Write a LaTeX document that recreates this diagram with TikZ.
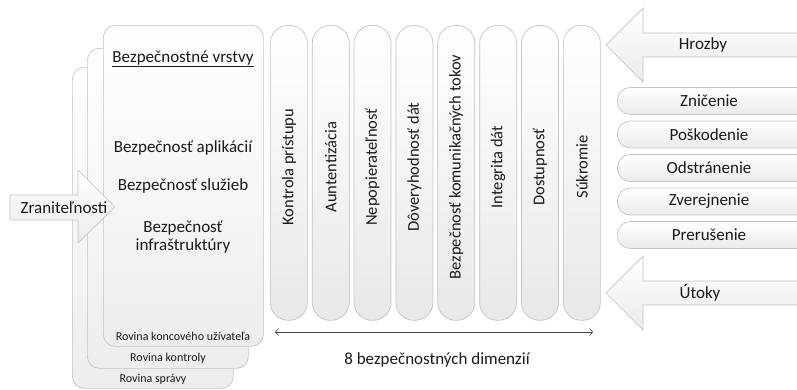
\documentclass[tikz,border=0pt]{standalone}
\usepackage{fontspec}
\setmainfont{Carlito}
\usetikzlibrary{arrows.meta}
\definecolor{edge}{HTML}{C4C4C4}
\definecolor{txt}{HTML}{1A1A1A}
\begin{document}
\begin{tikzpicture}[x=1pt,y=-1pt,
  panel/.style={draw=edge, line width=0.7pt, rounded corners=12pt, top color=white, bottom color=black!7, inner sep=0pt, anchor=north west},
  dimcol/.style={draw=edge, line width=0.7pt, rounded corners=18pt, top color=white, bottom color=black!9, inner sep=0pt, anchor=north west, minimum width=37pt, minimum height=295pt},
  pill/.style={draw=edge, line width=0.7pt, rounded corners=13pt, top color=white, bottom color=black!8, inner sep=0pt, anchor=west, minimum width=200pt, minimum height=27pt},
  bigarrow/.style={draw=edge, line width=0.7pt, top color=white, bottom color=black!8},
  lbl/.style={text=txt, font=\fontsize{17}{19}\selectfont, inner sep=0pt, align=center},
  small/.style={text=txt, font=\fontsize{12}{14}\selectfont, inner sep=0pt},
  dimtxt/.style={text=txt, font=\fontsize{16.5}{18}\selectfont, inner sep=0pt, rotate=90}
]
\useasboundingbox (0,0) rectangle (797,389);
\fill[white] (0,0) rectangle (797,389);
\begin{scope}
\clip (0,0) rectangle (797,389);

% layered panels
\node[panel, minimum width=161pt, minimum height=321pt] (back) at (72,67) {};
\node[panel, minimum width=161pt, minimum height=320pt] (mid) at (87,48) {};
\node[panel, minimum width=160pt, minimum height=321pt] (front) at (103,25) {};

\node[small] (rsprava) at (153,379) {Rovina správy};
\node[small] (rkontrola) at (168,358) {Rovina kontroly};
\node[small] (rkonc) at (183,336) {Rovina koncového užívateľa};

\node[lbl] (vrstvy) at (183,59) {\underline{Bezpečnostné vrstvy}};
\node[lbl] (aplik) at (183,148) {Bezpečnosť aplikácií};
\node[lbl] (sluzby) at (183,186) {Bezpečnosť služieb};
\node[lbl] (infra) at (183,237) {Bezpečnosť\\[-1pt]infraštruktúry};

% vulnerabilities arrow
\draw[bigarrow] (10,195) -- (78,195) -- (78,170) -- (115,207) -- (78,243) -- (78,220) -- (10,220) -- cycle;
\node[lbl] (zranit) at (64,208) {Zraniteľnosti};

% dimension columns
\foreach \i/\t in {0/Kontrola prístupu,1/Auntentizácia,2/Nepopierateľnosť,3/Dôveryhodnosť dát,4/Bezpečnosť komunikačných tokov,5/Integrita dát,6/Dostupnosť,7/Súkromie}{
  \node[dimcol] (c\i) at ({270+41.86*\i},25) {};
  \node[dimtxt] (t\i) at (c\i.center |- 0,167) {\t};
}

\coordinate (dl) at (275,332);
\coordinate (dr) at (593,332);
\draw[black!75, line width=0.6pt, {Straight Barb[length=3pt,width=7pt]}-{Straight Barb[length=3pt,width=7pt]}] (dl) -- (dr);
\node[lbl] (dims) at (437,360) {8 bezpečnostných dimenzií};

% threats arrow
\draw[bigarrow] (606,45) -- (643,8) -- (643,33) -- (810,33) -- (810,57) -- (643,57) -- (643,82) -- cycle;
\node[lbl] (hrozby) at (703,45) {Hrozby};

% threat list
\foreach \i/\t in {0/Zničenie,1/Poškodenie,2/Odstránenie,3/Zverejnenie,4/Prerušenie}{
  \node[pill] (p\i) at (617,{101+33.5*\i}) {};
  \node[lbl] (pt\i) at (709,{101+33.5*\i}) {\t};
}

% attacks arrow
\draw[bigarrow] (606,293) -- (643,256) -- (643,281) -- (810,281) -- (810,305) -- (643,305) -- (643,330) -- cycle;
\node[lbl] (utoky) at (700,293) {Útoky};
\end{scope}
\end{tikzpicture}
\end{document}
